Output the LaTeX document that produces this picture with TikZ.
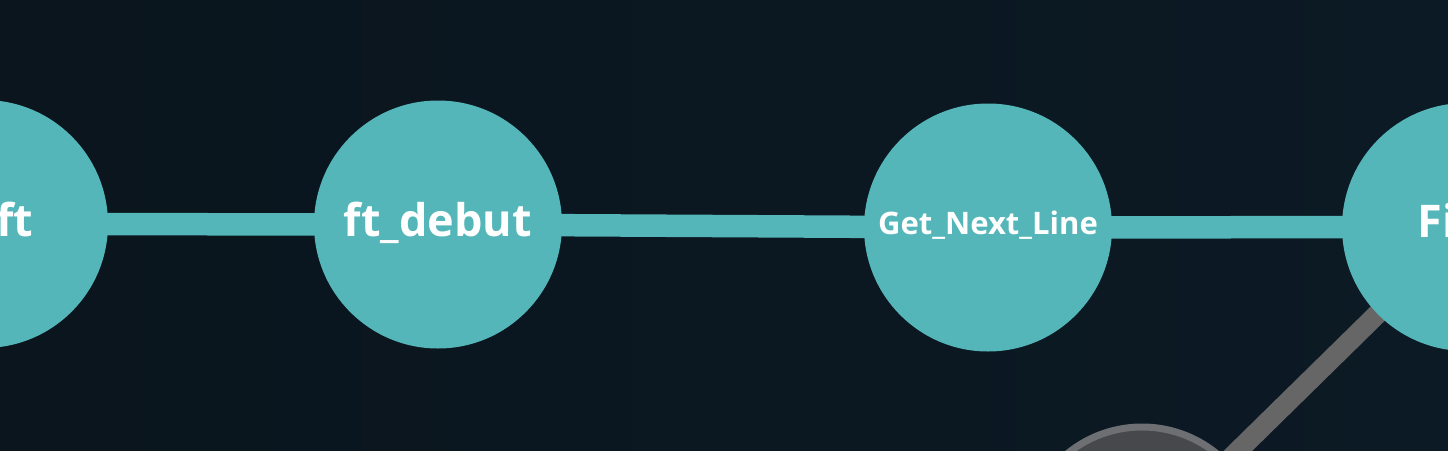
\documentclass[tikz,border=0pt]{standalone}
\usepackage{fontspec}
\setmainfont{Open Sans}
\usetikzlibrary{positioning}

\definecolor{bgdark}{HTML}{0A151D}
\definecolor{bglight}{HTML}{0C1A25}
\definecolor{tealnode}{HTML}{54B6B9}
\definecolor{greyedge}{HTML}{666666}
\definecolor{greyfill}{HTML}{47484C}
\definecolor{greyring}{HTML}{6E6F73}

\pgfdeclarelayer{back}
\pgfdeclarelayer{edges}
\pgfsetlayers{back,edges,main}

\begin{document}
\begin{tikzpicture}[x=1pt,y=-1pt]
\tikzstyle{every node}=[font=\bfseries, text=white]
\tikzstyle{project}=[circle, fill=tealnode, minimum size=248pt, inner sep=0pt]
\tikzstyle{locked}=[circle, fill=greyfill, draw=greyring, line width=7pt, minimum size=236pt, inner sep=0pt]
\tikzstyle{link}=[tealnode, line width=22.5pt]
\tikzstyle{greylink}=[greyedge, line width=20pt]
\tikzstyle{big}=[font=\bfseries\fontsize{45}{45}\selectfont]
\tikzstyle{small}=[font=\bfseries\fontsize{31}{31}\selectfont]

\useasboundingbox (0,0) rectangle (1448,450);
\clip (0,0) rectangle (1448,450);
\begin{pgfonlayer}{back}
\shade[left color=bgdark, right color=bglight] (0,0) rectangle (1448,450);
\end{pgfonlayer}

\node[project] (libft) at (-16,224) {};
\node[project] (debut) at (438,224.5) {};
\node[project] (gnl) at (988,227.5) {};
\node[project] (fillit) at (1466,227) {};
\node[locked] (next) at (1142,545) {};

\node[big, anchor=base] (debutname) at (438,236) {ft\_debut};
\node[small, anchor=base] (gnlname) at (988,234) {Get\_Next\_Line};
\node[big, anchor=base east] (libftname) at (37,236) {ft};
\node[big, anchor=base west] (fillitname) at (1414,237) {Fi};

\begin{pgfonlayer}{edges}
\draw[link] (libft.center) -- (debut.center);
\draw[link] (debut.center) -- (gnl.center);
\draw[link] (gnl.center) -- (fillit.center);
\draw[greylink] (next.center) -- (fillit.center);
\end{pgfonlayer}

\end{tikzpicture}
\end{document}
